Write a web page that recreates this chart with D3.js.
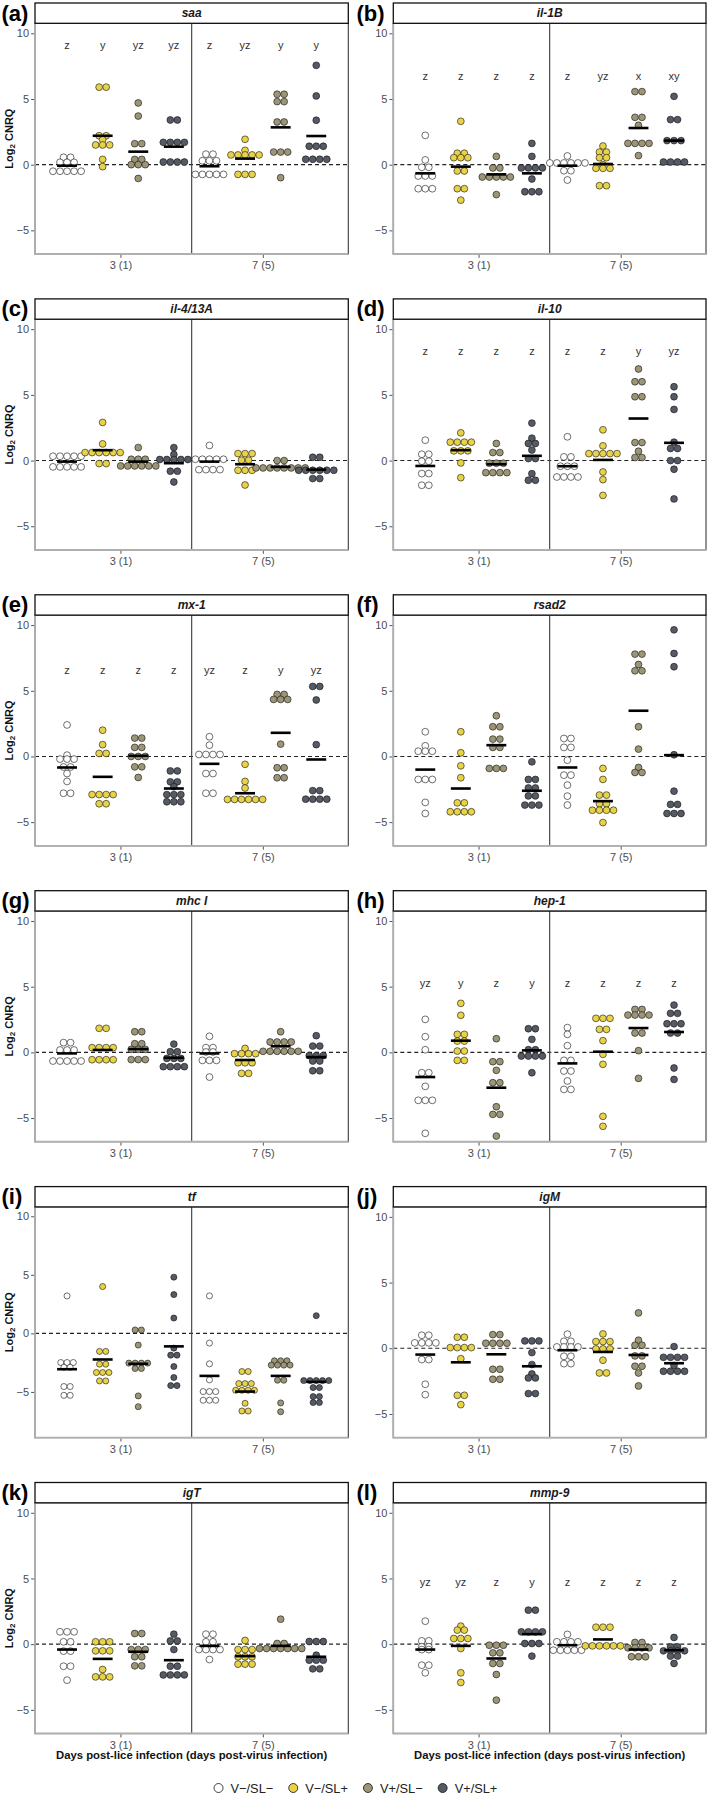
<!DOCTYPE html>
<html><head><meta charset="utf-8">
<script src="https://cdn.jsdelivr.net/npm/d3@7"></script>
<style>
body{margin:0;background:#fff}
svg{display:block}
text{font-family:"Liberation Sans",Arial,sans-serif}
</style>
</head><body>
<svg id="chart" width="709" height="1796"></svg>
<script>
// ---------------- DATA ----------------
const genes = ["saa","il-1B","il-4/13A","il-10","mx-1","rsad2","mhc I","hep-1","tf","igM","igT","mmp-9"];
const tags = ["(a)","(b)","(c)","(d)","(e)","(f)","(g)","(h)","(i)","(j)","(k)","(l)"];
const days = ["3 (1)","7 (5)"];
const groups = ["V\u2212/SL\u2212","V\u2212/SL+","V+/SL\u2212","V+/SL+"];
const yTicks = [-5,0,5,10];
const yLimitsStd = [-6.8,10.76];
const yLimitsTf = [-8.9,10.8];

// values: 8 groups = [3(1): V-/SL-, V-/SL+, V+/SL-, V+/SL+, 7(5): same order]
const saaValues = [
 [0.56,0.56,0.18,0.18,0.18,-0.5,-0.5,-0.5,-0.5,-0.5],
 [5.9,5.9,2.2,2.2,1.9,1.5,1.5,1.5,0.4,-0.15],
 [4.7,3.7,1.6,1.6,0.4,0.4,0.0,0.0,0.0,-1.05],
 [3.4,3.4,1.7,1.7,1.7,1.7,0.2,0.2,0.2,0.2],
 [0.8,0.8,0.3,0.3,0.3,-0.74,-0.74,-0.74,-0.74,-0.74],
 [1.93,1.09,0.74,0.74,0.74,0.74,0.74,-0.74,-0.74,-0.74],
 [5.36,5.36,4.8,4.8,3.25,3.25,0.96,0.96,0.96,-0.99],
 [7.56,5.23,3.38,1.4,1.4,1.4,0.41,0.41,0.41,0.41]];
const saaMeans = [-0.08,2.2,0.99,1.37,-0.12,0.46,2.84,2.18];
const saaLetters = ["z","y","yz","yz","z","yz","y","y"];

const il1bValues = [
 [2.23,0.36,-0.2,-0.2,-0.86,-0.86,-0.86,-1.83,-1.83,-1.83],
 [3.3,0.87,0.87,0.53,0.53,0.53,-0.48,-0.48,-1.83,-1.83,-2.7],
 [0.63,-0.25,-0.25,-0.94,-0.94,-0.94,-0.94,-0.94,-2.28],
 [1.62,0.63,-0.25,-0.25,-0.25,-0.25,-1.09,-2.06,-2.06,-2.06],
 [0.66,0.13,0.13,0.13,0.13,0.13,0.13,-0.46,-0.46,-1.17],
 [1.42,0.96,0.96,0.53,0.53,0.0,-0.28,-0.28,-0.28,-1.6,-1.6],
 [5.56,5.56,3.6,3.6,3.0,1.62,1.62,1.62,1.62,0.69],
 [5.2,3.43,3.43,1.83,1.83,1.83,0.2,0.2,0.2,0.2]];
const il1bMeans = [-0.66,-0.15,-0.74,-0.66,-0.08,0.05,2.79,1.83];
const il1bLetters = ["z","z","z","z","z","yz","x","xy"];

const il413Values = [
 [0.33,0.33,0.33,0.33,0.33,-0.48,-0.48,-0.48,-0.48,-0.48],
 [2.9,1.27,0.61,0.61,0.61,0.61,0.61,0.61,-0.23,-0.23],
 [0.99,0.1,0.1,0.1,-0.41,-0.41,-0.41,-0.41,-0.41,-0.41],
 [0.99,0.46,0.08,0.08,0.08,0.08,0.08,-0.81,-0.81,-1.63],
 [1.15,0.1,0.1,0.1,0.1,0.1,-0.69,-0.69,-0.69,-0.69],
 [0.53,0.53,0.53,0.03,0.03,-0.74,-0.74,-0.74,-1.86],
 [0.0,0.0,-0.56,-0.56,-0.56,-0.56,-0.56,-0.56,-0.56,-0.56],
 [0.25,0.25,-0.74,-0.74,-0.74,-0.74,-0.74,-0.74,-1.37,-1.37]];
const il413Means = [-0.08,0.79,-0.08,-0.2,-0.08,-0.28,-0.48,-0.69];

const il10Values = [
 [1.55,0.48,0.48,-0.05,-0.05,-0.99,-0.99,-1.88,-1.88],
 [2.11,1.4,1.4,1.4,1.4,0.74,0.74,0.74,-0.18,-1.3],
 [1.3,0.61,0.61,-0.2,-0.2,-0.2,-0.92,-0.92,-0.92,-0.92],
 [2.85,1.7,1.3,1.3,0.8,0.15,0.15,-1.0,-1.5,-1.5],
 [1.81,0.28,0.28,-0.43,-0.43,-0.43,-1.25,-1.25,-1.25,-1.25],
 [2.34,1.12,0.53,0.53,0.53,0.53,0.53,-0.87,-1.45,-2.65],
 [6.97,6.0,6.0,4.86,4.86,1.37,1.37,0.71,0.23,0.23],
 [5.62,4.86,3.89,1.4,0.92,0.92,0.0,0.0,-0.66,-2.92]];
const il10Means = [-0.41,0.79,-0.28,0.36,-0.43,0.05,3.2,1.35];
const il10Letters = ["z","z","z","z","z","z","y","yz"];

const mx1Values = [
 [2.4,0.1,-0.2,-0.2,-0.2,-0.8,-0.8,-1.3,-1.9,-2.8,-2.8],
 [2.0,0.9,0.23,0.23,-2.9,-2.9,-2.9,-2.9,-3.6,-3.6],
 [1.4,1.4,0.69,0.69,0.0,0.0,0.0,-0.79,-0.79,-1.6],
 [-1.1,-1.1,-1.93,-1.93,-2.3,-2.9,-2.9,-2.9,-3.45,-3.45,-3.45],
 [1.5,0.86,0.15,0.15,0.15,0.15,-1.3,-1.3,-2.8,-2.8],
 [-0.6,-1.9,-2.4,-3.27,-3.27,-3.27,-3.27,-3.27,-3.27],
 [4.72,4.72,4.34,4.34,4.34,0.94,-0.86,-0.86,-1.62,-1.62],
 [5.33,5.33,4.3,0.9,-2.6,-2.6,-3.25,-3.25,-3.25,-3.25]];
const mx1Means = [-0.84,-1.55,0.05,-2.44,-0.56,-2.8,1.8,-0.23];
const mx1Letters = ["z","z","z","z","yz","z","y","yz"];

const rsad2Values = [
 [1.88,0.81,0.4,0.4,0.4,-1.75,-1.75,-1.75,-3.5,-4.34],
 [1.88,0.28,-0.71,-1.62,-3.53,-3.53,-4.21,-4.21,-4.21,-4.21],
 [3.1,2.26,2.26,1.32,1.32,0.69,0.69,-0.91,-0.91,-0.91],
 [-0.41,-1.75,-1.75,-2.4,-2.4,-3.0,-3.0,-3.7,-3.7,-3.7],
 [1.37,1.37,0.69,0.69,-0.28,-1.42,-1.42,-2.18,-3.02,-3.7],
 [-0.91,-1.75,-2.94,-2.94,-3.6,-3.6,-4.09,-4.09,-4.09,-4.09,-5.03],
 [7.79,7.79,7.0,6.52,6.52,2.26,0.56,-0.84,-1.22,-1.22],
 [9.64,7.84,6.83,0.13,-2.64,-3.65,-3.65,-4.34,-4.34,-4.34]];
const rsad2Means = [-1.0,-2.44,0.86,-2.61,-0.84,-3.4,3.48,0.1];

const mhcValues = [
 [0.74,0.74,0.18,0.18,0.18,-0.66,-0.66,-0.66,-0.66,-0.66],
 [1.83,1.83,0.36,0.36,0.36,0.36,-0.56,-0.56,-0.56,-0.56],
 [1.57,1.57,0.66,0.66,0.23,0.23,0.23,-0.55,-0.55,-0.55],
 [0.63,0.05,0.05,-0.46,-0.46,-0.46,-1.09,-1.09,-1.09,-1.09],
 [1.22,0.36,0.36,0.03,0.03,-0.61,-0.61,-0.61,-1.88],
 [0.3,-0.1,-0.1,-0.1,-0.1,-0.79,-0.79,-0.79,-1.6,-1.6],
 [1.57,0.79,0.79,0.79,0.79,0.08,0.08,0.08,0.08,0.08,0.08],
 [1.27,0.48,0.48,-0.25,-0.25,-0.25,-0.66,-0.66,-1.4,-1.4]];
const mhcMeans = [-0.08,0.18,0.25,-0.41,-0.08,-0.58,0.46,-0.36];

const hep1Values = [
 [2.51,1.19,0.2,-1.55,-1.55,-2.59,-3.65,-3.65,-3.65,-6.16],
 [3.73,2.82,1.37,1.37,0.86,0.86,0.1,0.1,-0.61,-0.61],
 [1.04,-0.71,-0.71,-1.37,-2.31,-2.31,-4.14,-4.72,-4.72,-6.37],
 [1.8,1.8,0.99,0.2,0.2,-0.28,-0.28,-0.28,-0.28,-1.55],
 [1.88,1.37,0.51,-0.61,-0.61,-1.42,-1.42,-2.18,-2.82,-2.82],
 [2.59,2.59,2.59,1.75,1.75,0.89,-0.15,-0.91,-4.87,-5.63],
 [3.27,3.27,2.84,2.84,2.84,2.84,1.47,1.47,0.13,-1.98],
 [3.6,2.97,2.97,2.18,2.18,2.18,1.47,1.47,-1.19,-2.06]];
const hep1Means = [-1.88,0.89,-2.69,0.15,-0.84,0.05,1.85,1.55];
const hep1Letters = ["yz","y","z","y","z","z","z","z"];

const tfValues = [
 [3.2,-2.49,-2.49,-2.49,-2.9,-2.9,-4.54,-4.54,-5.29,-5.29],
 [4.0,-1.54,-1.54,-2.63,-2.63,-3.34,-3.34,-3.34,-4.06,-4.06],
 [0.29,0.29,-1.0,-2.54,-2.54,-2.54,-2.54,-3.0,-3.0,-5.34,-6.26],
 [4.8,3.31,1.31,-1.26,-1.86,-1.86,-2.83,-3.77,-4.46,-4.46],
 [3.2,-0.83,-2.6,-3.97,-4.97,-4.97,-4.97,-5.71,-5.71,-5.71],
 [-3.26,-3.26,-4.29,-4.29,-4.29,-4.86,-4.86,-4.86,-4.86,-5.97,-6.63,-6.63],
 [-2.34,-2.34,-2.34,-2.71,-2.71,-2.71,-2.71,-4.0,-4.0,-5.94,-6.69],
 [1.51,-4.03,-4.03,-4.03,-4.03,-4.03,-4.63,-4.63,-5.4,-5.4,-5.91,-5.91]];
const tfMeans = [-3.06,-2.23,-2.6,-1.11,-3.63,-4.97,-3.63,-4.14];

const igmValues = [
 [0.99,0.99,0.41,0.41,0.41,0.41,-0.86,-0.86,-2.74,-3.53],
 [0.84,0.84,0.05,0.05,0.05,0.05,-0.79,-3.58,-3.58,-4.29],
 [1.04,1.04,0.38,0.38,0.38,0.38,-1.6,-1.6,-2.36,-2.36],
 [0.56,0.56,0.56,-0.33,-1.24,-1.95,-2.26,-2.26,-3.45,-3.45],
 [1.07,0.53,0.53,0.1,0.1,0.1,0.1,-0.61,-0.61,-1.17,-1.17],
 [1.09,0.51,0.51,0.51,-0.05,-0.05,-0.05,-0.91,-1.88,-1.88],
 [2.69,0.61,0.23,0.23,-0.58,-0.58,-1.37,-1.37,-1.88,-2.87],
 [0.13,-0.69,-0.69,-0.69,-0.69,-1.3,-1.75,-1.75,-1.75,-1.75]];
const igmMeans = [-0.48,-1.07,-0.46,-1.37,-0.15,-0.28,-0.51,-1.14];

const igtValues = [
 [0.94,0.94,0.94,0.18,0.18,-0.53,-0.53,-1.68,-1.68,-2.74],
 [0.18,0.18,0.18,-0.51,-0.51,-0.51,-1.93,-2.49,-2.49,-2.49],
 [0.81,0.81,-0.41,-0.41,-0.41,-0.96,-0.96,-1.65,-1.65],
 [0.76,0.25,0.25,-0.41,-1.68,-1.68,-2.34,-2.34,-2.34,-2.34],
 [0.76,0.76,0.18,0.18,-0.41,-0.41,-0.41,-0.41,-1.17],
 [0.28,-0.41,-0.41,-0.41,-0.96,-0.96,-0.96,-1.52,-1.52,-1.52],
 [1.9,0.05,0.05,-0.33,-0.33,-0.33,-0.33,-0.33,-0.33,-0.33],
 [0.2,0.2,0.2,-0.84,-1.22,-1.22,-1.22,-1.88,-1.88]];
const igtMeans = [-0.41,-1.12,-0.58,-1.22,-0.13,-0.91,-0.13,-0.96];

const mmp9Values = [
 [1.75,0.25,0.25,-0.2,-0.2,-0.41,-0.41,-1.6,-1.6,-2.18],
 [1.37,1.07,1.07,0.43,0.43,0.43,-0.33,-2.18,-2.92],
 [-0.08,-0.08,-0.08,-0.66,-0.66,-1.47,-1.47,-2.31,-4.26],
 [2.59,2.59,0.94,0.94,0.94,0.94,0.05,0.05,0.05,-0.91],
 [0.74,0.18,0.18,0.18,0.18,-0.46,-0.46,-0.46,-0.46,-0.46],
 [1.29,1.29,1.29,-0.13,-0.13,-0.13,-0.13,-0.13,-0.13],
 [0.13,0.13,-0.28,-0.28,-0.28,-0.28,-0.96,-0.96,-0.96],
 [0.51,-0.2,-0.2,-0.51,-0.51,-0.51,-0.51,-0.91,-0.91,-1.47]];
const mmp9Means = [-0.41,-0.13,-1.09,0.76,-0.08,0.36,-0.41,-0.46];
const mmp9Letters = ["yz","yz","z","y","z","z","z","z"];

// height (in log2 units) at which the significance letters sit, per panel
const letterHeights = [9.1,6.7,null,8.35,6.57,null,null,5.3,null,null,null,4.75];

// ---------------- ASSEMBLY ----------------
const allValues = [saaValues,il1bValues,il413Values,il10Values,mx1Values,rsad2Values,mhcValues,hep1Values,tfValues,igmValues,igtValues,mmp9Values];
const allMeans = [saaMeans,il1bMeans,il413Means,il10Means,mx1Means,rsad2Means,mhcMeans,hep1Means,tfMeans,igmMeans,igtMeans,mmp9Means];
const allLetters = [saaLetters,il1bLetters,null,il10Letters,mx1Letters,null,null,hep1Letters,null,null,null,mmp9Letters];

const fills = ["#FFFFFF","#E8D248","#9C9677","#555A64"];
const svg = d3.select("#chart");
const colX = [[35,348.3],[393.3,706]];
const rowPitch = 295.9;
const dotUnits = 0.535;   // dot diameter in data units (dotplot binwidth)

genes.forEach((gene,i)=>{
  const col = i%2, row = Math.floor(i/2);
  const R = 3 + row*rowPitch;
  const x0 = colX[col][0], x1 = colX[col][1];
  const top = R+20.3, bottom = R+251;
  const x = d3.scaleLinear().domain([0.4,2.6]).range([x0,x1]);
  const y = d3.scaleLinear().domain(gene==="tf"?yLimitsTf:yLimitsStd).range([bottom,top]);
  const g = svg.append("g");

  // dashed zero line
  g.append("line").attr("x1",x0).attr("x2",x1).attr("y1",y(0)).attr("y2",y(0))
    .attr("stroke","#222").attr("stroke-width",1.1).attr("stroke-dasharray","4,3");
  // divider between days
  g.append("line").attr("x1",x(1.5)).attr("x2",x(1.5)).attr("y1",top).attr("y2",bottom)
    .attr("stroke","#4a4a4a").attr("stroke-width",1.2);

  const dpx = y(0)-y(dotUnits);
  const vals = allValues[i];
  vals.forEach((arr,gi)=>{
    const day = Math.floor(gi/4), grp = gi%4;
    const cx = x(day+1+(grp-1.5)*0.25);
    const rows = d3.groups(arr, v=>v);
    rows.forEach(([v,items])=>{
      const k = items.length;
      items.forEach((_,j)=>{
        g.append("circle").attr("cx",cx+(j-(k-1)/2)*dpx).attr("cy",y(v))
          .attr("r",dpx/2-0.1).attr("fill",fills[grp]).attr("stroke","#111").attr("stroke-width",0.6);
      });
    });
  });
  // mean bars
  allMeans[i].forEach((m,gi)=>{
    const day = Math.floor(gi/4), grp = gi%4;
    const c = day+1+(grp-1.5)*0.25;
    g.append("line").attr("x1",x(c-0.07)).attr("x2",x(c+0.07)).attr("y1",y(m)).attr("y2",y(m))
      .attr("stroke","#000").attr("stroke-width",2.6);
  });
  // letters
  if(allLetters[i]){
    allLetters[i].forEach((L,gi)=>{
      const day = Math.floor(gi/4), grp = gi%4;
      g.append("text").attr("x",x(day+1+(grp-1.5)*0.25)).attr("y",y(letterHeights[i])+3.8)
        .attr("text-anchor","middle").attr("font-size",11).attr("fill","#333").text(L);
    });
  }
  // panel border
  g.append("rect").attr("x",x0).attr("y",top).attr("width",x1-x0).attr("height",bottom-top)
    .attr("fill","none").attr("stroke","#3a3a3a").attr("stroke-width",1.1);
  g.append("line").attr("x1",x0).attr("x2",x0).attr("y1",top).attr("y2",bottom+0.8)
    .attr("stroke","#b0b0b0").attr("stroke-width",1.8);
  g.append("line").attr("x1",x0).attr("x2",x1).attr("y1",bottom).attr("y2",bottom)
    .attr("stroke","#b0b0b0").attr("stroke-width",1.8);

  // y axis
  const ya = g.append("g").attr("transform",`translate(${x0-0.9},0)`)
    .call(d3.axisLeft(y).tickValues(yTicks).tickSize(3).tickPadding(2));
  ya.select(".domain").remove();
  ya.selectAll(".tick line").attr("stroke","#555");
  ya.selectAll(".tick text").attr("font-size",11).attr("fill","#4d4d4d")
    .attr("font-family","'Liberation Sans',Arial,sans-serif");
  // x axis
  const xa = g.append("g").attr("transform",`translate(0,${bottom+0.9})`)
    .call(d3.axisBottom(x).tickValues([1,2]).tickFormat((d,k)=>days[k]).tickSize(3).tickPadding(3.5));
  xa.select(".domain").remove();
  xa.selectAll(".tick line").attr("stroke","#555");
  xa.selectAll(".tick text").attr("font-size",11).attr("fill","#4d4d4d")
    .attr("font-family","'Liberation Sans',Arial,sans-serif");

  // strip
  g.append("rect").attr("x",x0).attr("y",R).attr("width",x1-x0).attr("height",20.3)
    .attr("fill","#fff").attr("stroke","#111").attr("stroke-width",1.3);
  g.append("text").attr("x",(x0+x1)/2).attr("y",R+14.3).attr("text-anchor","middle")
    .attr("font-size",12).attr("font-weight","bold").attr("font-style","italic").attr("fill","#1a1a1a").text(gene);
  // panel tag
  g.append("text").attr("x",col===0?1.5:356.5).attr("y",R+17.5)
    .attr("font-size",22).attr("font-weight","bold").attr("fill","#000").text(tags[i]);

  // y title for left column
  if(col===0){
    const t = g.append("text").attr("transform",`translate(12.5,${(top+bottom)/2}) rotate(-90)`)
      .attr("text-anchor","middle").attr("font-size",11).attr("font-weight","bold").attr("fill","#111");
    t.append("tspan").text("Log");
    t.append("tspan").attr("font-size",8).attr("dy",2.5).text("2");
    t.append("tspan").attr("dy",-2.5).text(" CNRQ");
  }
  // x title for bottom row
  if(row===5){
    g.append("text").attr("x",(x0+x1)/2).attr("y",R+276.5).attr("text-anchor","middle")
      .attr("font-size",11.3).attr("font-weight","bold").attr("fill","#111")
      .text("Days post-lice infection (days post-virus infection)");
  }
});

// legend
const lg = svg.append("g");
let cursor = 0;
const items = [];
groups.forEach((lab,k)=>{
  const it = lg.append("g");
  it.append("circle").attr("cx",cursor+4.5).attr("cy",0).attr("r",4.5)
    .attr("fill",fills[k]).attr("stroke","#111").attr("stroke-width",0.8);
  const t = it.append("text").attr("x",cursor+16.5).attr("y",4.5).attr("font-size",12.8)
    .attr("fill","#222").text(lab);
  const w = t.node().getComputedTextLength();
  cursor += 16.5 + w + 15.5;
});
const total = cursor - 15.5;
lg.attr("transform",`translate(${355.7-total/2},1788)`);
</script>
</body></html>
